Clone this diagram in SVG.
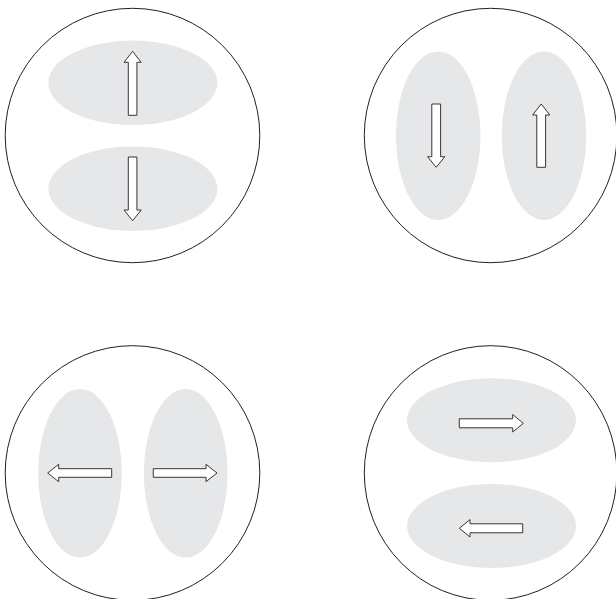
<svg xmlns="http://www.w3.org/2000/svg" width="616" height="599" viewBox="0 0 616 599">
  <style>
    .cell { fill: #ffffff; stroke: #231f20; stroke-width: 1; }
    .blob { fill: #e6e7e8; stroke: none; }
    .arrow { fill: #ffffff; stroke: #231f20; stroke-width: 0.9; stroke-linejoin: miter; }
  </style>
  <rect x="0" y="0" width="616" height="599" fill="#ffffff"/>

  <g id="panel-top-left">
    <ellipse class="cell" cx="132.5" cy="135.5" rx="127.3" ry="127.2"/>
    <ellipse class="blob" cx="132.8" cy="82.8" rx="84.5" ry="42.2"/>
    <ellipse class="blob" cx="132.8" cy="188.7" rx="84.5" ry="42.2"/>
    <polygon class="arrow" points="128.3,115.3 128.3,62.3 124,62.3 132.6,51.3 141.2,62.3 136.9,62.3 136.9,115.3"/>
    <polygon class="arrow" points="128.3,157 136.9,157 136.9,210 141.2,210 132.6,220.7 124,210 128.3,210"/>
  </g>

  <g id="panel-top-right">
    <ellipse class="cell" cx="490.6" cy="135.5" rx="126.3" ry="127.2"/>
    <ellipse class="blob" cx="438.2" cy="135.7" rx="42.2" ry="84.3"/>
    <ellipse class="blob" cx="544" cy="135.7" rx="42.2" ry="84.3"/>
    <polygon class="arrow" points="431.8,104 440.6,104 440.6,156.7 444.8,156.7 436.2,167.3 427.6,156.7 431.8,156.7"/>
    <polygon class="arrow" points="536.8,167.3 536.8,115 532.6,115 541.2,104 549.8,115 545.6,115 545.6,167.3"/>
  </g>

  <g id="panel-bottom-left">
    <ellipse class="cell" cx="132.5" cy="473" rx="127.3" ry="127.3"/>
    <ellipse class="blob" cx="80" cy="473.3" rx="41.8" ry="84.3"/>
    <ellipse class="blob" cx="185.7" cy="473.3" rx="41.8" ry="84.3"/>
    <polygon class="arrow" points="111.7,468.7 58.7,468.7 58.7,464.3 47.7,473 58.7,481.7 58.7,477.3 111.7,477.3"/>
    <polygon class="arrow" points="153.3,468.7 206,468.7 206,464.3 217,473 206,481.7 206,477.3 153.3,477.3"/>
  </g>

  <g id="panel-bottom-right">
    <ellipse class="cell" cx="490.6" cy="473" rx="126.3" ry="127.3"/>
    <ellipse class="blob" cx="491.5" cy="420.3" rx="84.5" ry="42"/>
    <ellipse class="blob" cx="491.5" cy="526" rx="84.5" ry="42"/>
    <polygon class="arrow" points="459.3,418.8 512.7,418.8 512.7,414.6 523.3,423.3 512.7,432 512.7,427.8 459.3,427.8"/>
    <polygon class="arrow" points="522.7,523.8 470,523.8 470,519.6 459.3,528.3 470,537 470,532.8 522.7,532.8"/>
  </g>
</svg>
